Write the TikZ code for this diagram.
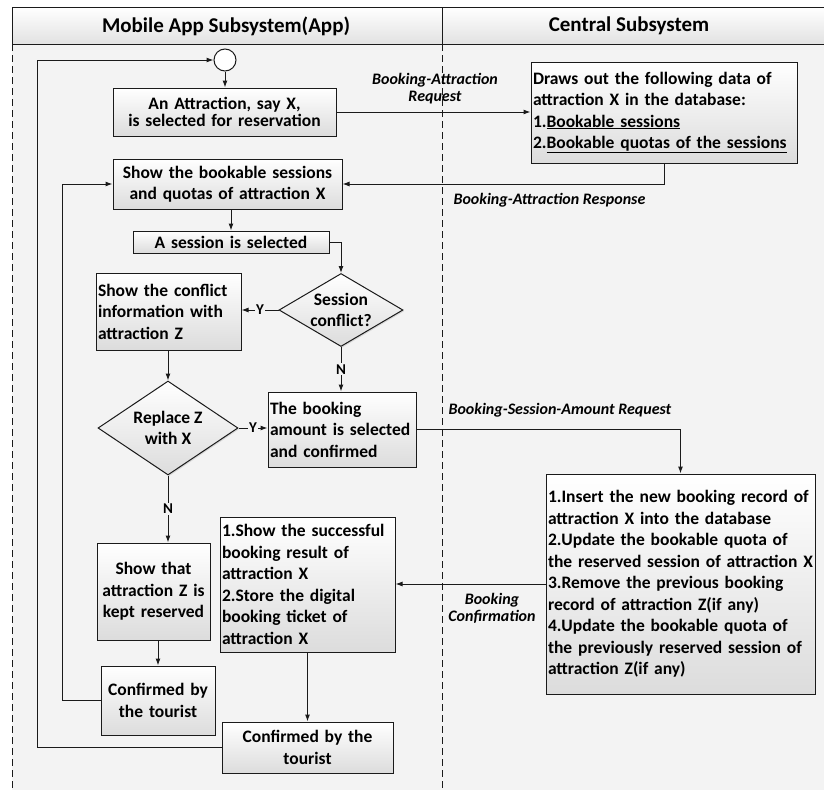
\documentclass[tikz,border=0pt]{standalone}
\usepackage{fontspec}
\setmainfont{Carlito}
\usetikzlibrary{arrows.meta,shapes.geometric,shadows}

\definecolor{lanegray}{HTML}{F3F3F3}
\definecolor{headgray}{HTML}{E2E2E2}
\definecolor{boxgray}{HTML}{DCDCDC}
\definecolor{linegray}{HTML}{1A1A1A}

\begin{document}
\begin{tikzpicture}[x=1pt,y=-1pt,
		font=\fontsize{17.5}{21.5}\selectfont\bfseries,
		box/.style={draw=linegray,line width=1pt,top color=white,bottom color=boxgray,
			inner xsep=2pt,inner ysep=0pt,
			drop shadow={shadow xshift=1.2pt,shadow yshift=-1.2pt,opacity=0.25}},
		dia/.style={box,diamond,inner sep=0pt},
		flow/.style={draw=linegray,line width=1pt,-{Latex[length=7pt,width=5pt]}},
		yn/.style={fill=lanegray,inner sep=1pt,font=\fontsize{15}{17}\selectfont\bfseries},
		msg/.style={font=\fontsize{16}{17}\selectfont\bfseries\itshape,align=center}]
	\useasboundingbox (0,0) rectangle (824,790);
	% lanes
	\fill[lanegray] (12,44) rectangle (824,790);
	\shade[top color=white,bottom color=headgray] (12,7) rectangle (824,44);
	\draw[linegray,line width=1pt] (12,44) -- (12,7) -- (824,7);
	\draw[linegray,line width=1pt] (12,44) -- (824,44);
	\draw[linegray,line width=1pt] (442,7) -- (442,44);
	\draw[linegray,line width=1pt,dashed,dash pattern=on 7pt off 4pt] (12,44) -- (12,790);
	\draw[linegray,line width=1pt,dashed,dash pattern=on 7pt off 4pt] (442,44) -- (442,790);
	\node at (226,26) (hApp) {\fontsize{21}{24}\selectfont Mobile App Subsystem(App)};
	\node at (629,26) (hCen) {\fontsize{21}{24}\selectfont Central Subsystem};

	% app lane
	\node[draw=linegray,line width=1pt,fill=white,circle,minimum size=22pt,inner sep=0pt] at (225,60) (start) {};
	\node[box,text width=219pt,minimum height=48pt,align=center,font=\fontsize{17.5}{16.5}\selectfont\bfseries] at (224.5,112) (a1) {An Attraction, say X,\\is selected for reservation};
	\node[box,text width=225pt,minimum height=50pt,align=center] at (227.5,184) (a2) {Show the bookable sessions\\and quotas of attraction X};
	\node[box,text width=192pt,minimum height=22pt,align=center] at (231,242) (a3) {A session is selected};
	\node[dia,minimum width=124pt,minimum height=73pt] at (341,310) (d1) {};
	\node[align=center] at (d1) (d1t) {Session\\conflict?};
	\node[box,text width=141pt,minimum height=77pt,align=left] at (168.5,311.5) (a4) {Show the conflict\\information with\\attraction Z};
	\node[dia,minimum width=140pt,minimum height=94pt] at (168,428) (d2) {};
	\node[align=center] at (d2) (d2t) {Replace Z\\with X};
	\node[box,text width=144pt,minimum height=75pt,align=left] at (342,429.5) (a5) {The booking\\amount is selected\\and confirmed};
	\node[box,text width=109pt,minimum height=97pt,align=center] at (153.5,591.5) (a6) {Show that\\attraction Z is\\kept reserved};
	\node[box,text width=171pt,minimum height=135pt,align=left] at (307.5,584.5) (a7) {1.Show the successful\\booking result of\\attraction X\\2.Store the digital\\booking ticket of\\attraction X};
	\node[box,text width=110pt,minimum height=69pt,align=center] at (158,700.5) (a8) {Confirmed by\\the tourist};
	\node[box,text width=167pt,minimum height=51pt,align=center] at (307.5,747.5) (a9) {Confirmed by the\\tourist};
	\coordinate (inner) at (62,184);
	\coordinate (outer) at (37,60);

	% central lane
	\node[box,text width=262pt,minimum height=101pt,align=left] at (664,112.5) (c1) {Draws out the following data of\\attraction X in the database:\\1.\underline{Bookable sessions}\\2.\underline{Bookable quotas of the sessions}};
	\node[box,text width=265pt,minimum height=220pt,align=left] at (680.5,584) (c2) {1.Insert the new booking record of\\attraction X into the database\\2.Update the bookable quota of\\the reserved session of attraction X\\3.Remove the previous booking\\record of attraction Z(if any)\\4.Update the bookable quota of\\the previously reserved session of\\attraction Z(if any)};

	% messages
	\node[msg] at (435,89) (m1) {Booking-Attraction\\Request};
	\node[msg,anchor=west] at (450,200) (m2) {Booking-Attraction Response};
	\node[msg,anchor=west] at (445,410) (m3) {Booking-Session-Amount Request};
	\node[msg] at (492,608) (m4) {Booking\\Confirmation};

	% flows
	\draw[flow] (start.south) -- (start.south |- a1.north);
	\draw[flow] (a1.east) -- (a1.east -| c1.west);
	\draw[flow] (c1.south) |- (a2.east);
	\draw[flow] (a3.north |- a2.south) -- (a3.north);
	\draw[flow] (a3.east) -| (d1.north);
	\draw[flow] (d1.west) -- node[yn] {Y} (a4.east |- d1.west);
	\draw[flow] (d1.south) -- node[yn] {N} (d1.south |- a5.north);
	\draw[flow] (d2.north |- a4.south) -- (d2.north);
	\draw[flow] (d2.east) -- node[yn] {Y} (d2.east -| a5.west);
	\draw[flow] (d2.south) -- node[yn,pos=0.5] {N} (d2.south |- a6.north);
	\draw[flow] (a8.north |- a6.south) -- (a8.north);
	\draw[flow] (a8.west) -| (inner) -- (a2.west);
	\draw[flow] (a5.east) -| (c2.north);
	\draw[flow] (c2.west) -- (c2.west -| a7.east);
	\draw[flow] (a7.south) -- (a9.north);
	\draw[flow] (a9.west) -| (outer) -- (start.west);
\end{tikzpicture}
\end{document}
